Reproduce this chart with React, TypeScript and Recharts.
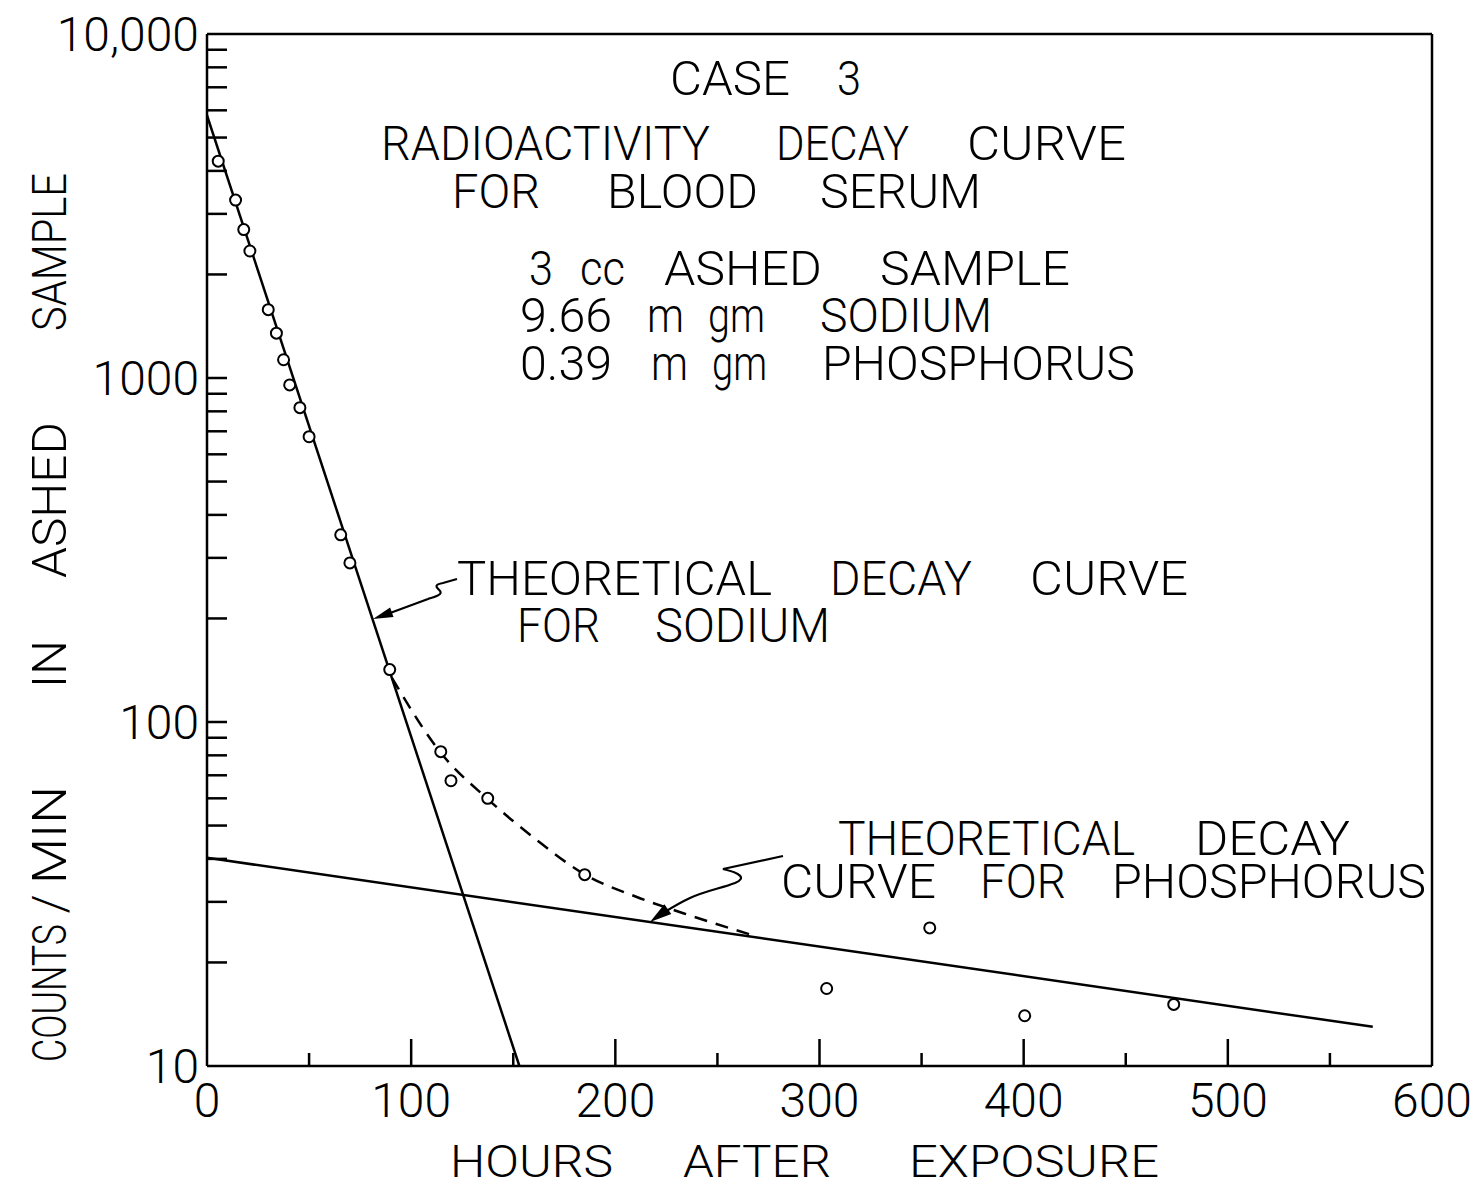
import { ComposedChart, Line, Scatter, XAxis, YAxis, ReferenceLine } from "recharts";

const FONT = "Roboto, 'Liberation Sans', 'DejaVu Sans Condensed', sans-serif";

// axis ticks
const hourTicks = [0, 50, 100, 150, 200, 250, 300, 350, 400, 450, 500, 550, 600];
const hourLabels = [0, 100, 200, 300, 400, 500, 600];
const countTicks = [
  10, 20, 30, 40, 50, 60, 70, 80, 90,
  100, 200, 300, 400, 500, 600, 700, 800, 900,
  1000, 2000, 3000, 4000, 5000, 6000, 7000, 8000, 9000, 10000,
];
const countLabels: Record<number, string> = { 10: "10", 100: "100", 1000: "1000", 10000: "10,000" };

// measured serum activity
const measuredHours = [5.5, 14, 18, 21, 30, 34, 37.5, 40.5, 45.5, 50, 65.5, 70, 89.5, 114.5, 119.5, 137.5, 185, 303.5, 354, 400.5, 473.5];
const measuredCounts = [4270, 3290, 2700, 2340, 1580, 1350, 1130, 955, 820, 675, 350, 290, 142, 82, 67.5, 60, 36, 16.8, 25.2, 14, 15.1];

// theoretical decay lines
const sodiumHours = [0, 153];
const sodiumCounts = [5800, 10];
const phosphorusHours = [0, 571];
const phosphorusCounts = [40.3, 13];

// dashed combined curve
const mixedHours = [90.7, 114.2, 137.5, 161.5, 184.8, 210.5, 233.3, 269.2];
const mixedCounts = [134, 81.8, 59.7, 45.4, 36.1, 31, 27.8, 23.8];

const zip = (h: number[], c: number[]) => h.map((hours, i) => ({ hours, count: c[i] }));

const measured = zip(measuredHours, measuredCounts);
const sodium = zip(sodiumHours, sodiumCounts);
const phosphorus = zip(phosphorusHours, phosphorusCounts);
const mixed = zip(mixedHours, mixedCounts);

// word placements: [text, left, right, baseline]
const words: [string, number, number, number][] = [
  ["CASE", 670, 790, 95], ["3", 837, 861, 95],
  ["RADIOACTIVITY", 381, 710, 160], ["DECAY", 776, 909, 160], ["CURVE", 967, 1126, 160],
  ["FOR", 452, 540, 208], ["BLOOD", 607, 758, 208], ["SERUM", 820, 981, 208],
  ["3", 529, 553, 285], ["cc", 580, 625, 285], ["ASHED", 664, 822, 285], ["SAMPLE", 880, 1070, 285],
  ["9.66", 520, 612, 332], ["m", 647, 684, 332], ["gm", 708, 765, 332], ["SODIUM", 820, 992, 332],
  ["0.39", 520, 612, 380], ["m", 651, 688, 380], ["gm", 712, 767, 380], ["PHOSPHORUS", 822, 1135, 380],
  ["THEORETICAL", 457, 772, 595], ["DECAY", 830, 972, 595], ["CURVE", 1030, 1188, 595],
  ["FOR", 517, 600, 642], ["SODIUM", 655, 830, 642],
  ["THEORETICAL", 838, 1135, 855], ["DECAY", 1195, 1350, 855],
  ["CURVE", 781, 936, 898], ["FOR", 980, 1066, 898], ["PHOSPHORUS", 1112, 1426, 898],
];

// x axis title: [text, left, right]
const xWords: [string, number, number][] = [
  ["HOURS", 450, 613], ["AFTER", 683, 831], ["EXPOSURE", 909, 1159],
];

// rotated y title: [text, top, bottom]
const yWords: [string, number, number][] = [
  ["SAMPLE", 173, 331], ["ASHED", 422, 578], ["IN", 640, 688],
  ["MIN", 786, 884], ["COUNTS", 924, 1062],
];

const GAP = 8;

const XTick = (props: any) => {
  const { x, y, payload } = props;
  const v = payload.value;
  const axisY = y - 16;
  const major = v % 100 === 0;
  return (
    <g>
      {v > 0 && v < 600 && (
        <line x1={x} x2={x} y1={axisY} y2={axisY - (major ? 27 : 13)} stroke="#000" strokeWidth={2.5} />
      )}
      {hourLabels.includes(v) && (
        <text x={x} y={y} dy="0.72em" textAnchor="middle" fontSize={48} fontWeight={300} fontFamily={FONT} fill="#000">
          {v}
        </text>
      )}
    </g>
  );
};

const YTick = (props: any) => {
  const { x, y, payload } = props;
  const v = payload.value;
  const axisX = x + GAP;
  const label = countLabels[v];
  return (
    <g>
      {v > 10 && v < 10000 && (
        <line x1={axisX} x2={axisX + 20} y1={y} y2={y} stroke="#000" strokeWidth={2.5} />
      )}
      {label && (
        <text x={x} y={y} dy="0.36em" textAnchor="end" fontSize={48} fontWeight={300} fontFamily={FONT} fill="#000">
          {label}
        </text>
      )}
    </g>
  );
};

const Dot = (props: any) => (
  <circle cx={props.cx} cy={props.cy} r={5.5} fill="#fff" stroke="#000" strokeWidth={2} />
);

export default function App() {
  return (
    <div style={{ position: "absolute", left: 0, top: 0, width: 1483, height: 1190, background: "#fff" }}>
      <ComposedChart width={1483} height={1190} margin={{ top: 34, right: 51, bottom: 64, left: 57 }}>
        <XAxis
          type="number"
          dataKey="hours"
          domain={[0, 600]}
          ticks={hourTicks}
          interval={0}
          allowDataOverflow
          height={60}
          tickSize={0}
          tickMargin={16}
          tick={<XTick />}
          axisLine={{ stroke: "#000", strokeWidth: 2.5 }}
        />
        <YAxis
          type="number"
          dataKey="count"
          scale="log"
          domain={[10, 10000]}
          ticks={countTicks}
          interval={0}
          allowDataOverflow
          width={150}
          tickSize={0}
          tickMargin={GAP}
          tick={<YTick />}
          axisLine={{ stroke: "#000", strokeWidth: 2.5 }}
        />
        <ReferenceLine y={10000} stroke="#000" strokeWidth={2.5} />
        <ReferenceLine x={600} stroke="#000" strokeWidth={2.5} />
        <Line data={sodium} dataKey="count" type="linear" dot={false} stroke="#000" strokeWidth={2.5} isAnimationActive={false} />
        <Line data={phosphorus} dataKey="count" type="linear" dot={false} stroke="#000" strokeWidth={2.5} isAnimationActive={false} />
        <Line data={mixed} dataKey="count" type="monotone" dot={false} stroke="#000" strokeWidth={2.5} strokeDasharray="13 9" isAnimationActive={false} />
        <Scatter data={measured} dataKey="count" shape={<Dot />} isAnimationActive={false} />
      </ComposedChart>

      <svg width={1483} height={1190} style={{ position: "absolute", left: 0, top: 0, pointerEvents: "none" }}>
        <g fontFamily={FONT} fontSize={48} fontWeight={300} fill="#000">
          {words.map(([t, x0, x1, y], i) => (
            <text key={i} x={x0} y={y} textLength={x1 - x0} lengthAdjust="spacingAndGlyphs">
              {t}
            </text>
          ))}
          {xWords.map(([t, x0, x1], i) => (
            <text key={"x" + i} x={x0} y={1177} fontSize={44} textLength={x1 - x0} lengthAdjust="spacingAndGlyphs">
              {t}
            </text>
          ))}
          {yWords.map(([t, top, bottom], i) => (
            <text
              key={"y" + i}
              x={66}
              y={bottom}
              transform={`rotate(-90, 66, ${bottom})`}
              textLength={bottom - top}
              lengthAdjust="spacingAndGlyphs"
            >
              {t}
            </text>
          ))}
          <text x={66} y={904} transform="rotate(-90, 66, 904)" textAnchor="middle">
            /
          </text>
        </g>
        <g stroke="#000" strokeWidth={2.2} fill="none">
          <path d="M457,579 L443,583 C428,586 444,590 440,594 C437,597 430,598 428,599 L382,616" />
          <path d="M783,856 L723,869 C740,873 747,878 735,883 C722,888 705,891 690,898 C677,904 668,910 660,915" />
        </g>
        <polygon points="373,619 393.5,616.9 390.1,607.5" fill="#000" />
        <polygon points="650,922 671.3,914 664.3,904.2" fill="#000" />
      </svg>
    </div>
  );
}
